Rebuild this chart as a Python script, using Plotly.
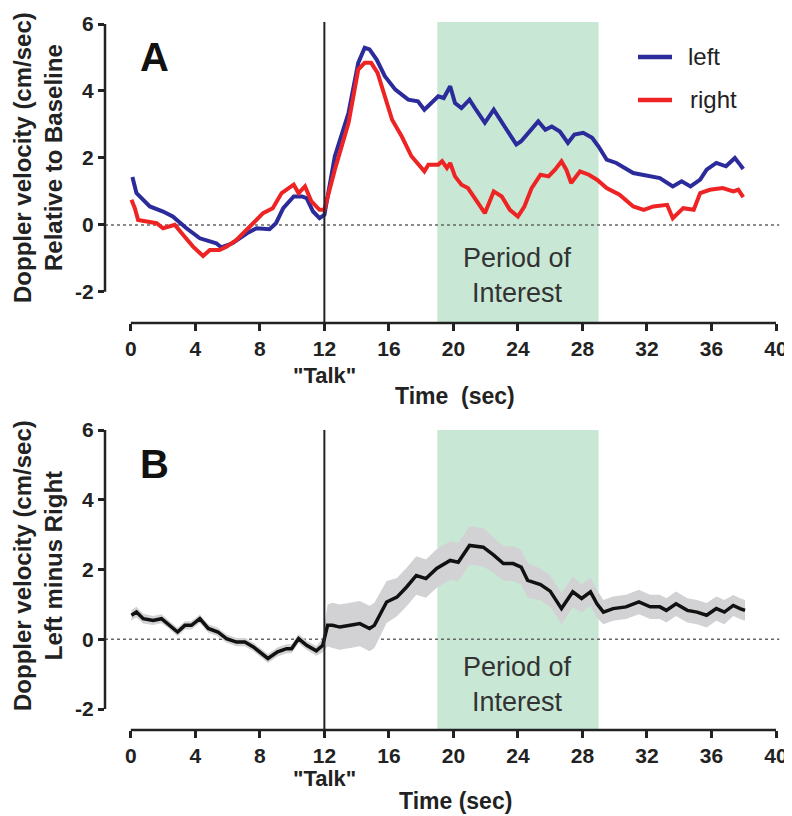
import plotly.graph_objects as go

# ---------------- data ----------------
left_t = [0.1, 0.35, 1.18, 2.0, 2.6, 3.45, 4.28, 5.3, 5.6, 6.3, 7.2, 7.8, 8.6, 9.0, 9.45,
          10.1, 10.6, 10.9, 11.3, 11.7, 12.0, 12.65, 13.5, 14.1, 14.5, 14.8, 15.24, 15.75,
          16.4, 17.2, 17.8, 18.2, 19.06, 19.4, 19.8, 20.1, 20.5, 21.0, 21.4, 21.95, 22.5,
          22.9, 23.4, 23.9, 24.2, 24.7, 25.26, 25.7, 26.1, 26.6, 27.1, 27.5, 28.05, 28.6,
          29.0, 29.5, 30.1, 31.15, 32.2, 32.8, 33.6, 34.15, 34.7, 35.3, 35.7, 36.3, 36.9,
          37.45, 37.77, 37.97]
left_v = [1.43, 0.95, 0.55, 0.4, 0.25, -0.1, -0.4, -0.55, -0.67, -0.55, -0.25, -0.1, -0.13,
          0.05, 0.5, 0.85, 0.85, 0.8, 0.4, 0.2, 0.3, 2.05, 3.35, 4.84, 5.29, 5.24, 4.94, 4.44,
          4.04, 3.74, 3.69, 3.44, 3.84, 3.79, 4.14, 3.64, 3.49, 3.74, 3.44, 3.05, 3.44,
          3.14, 2.79, 2.4, 2.5, 2.79, 3.09, 2.84, 2.94, 2.79, 2.45, 2.7, 2.75, 2.6,
          2.34, 1.95, 1.85, 1.55, 1.45, 1.4, 1.15, 1.3, 1.15, 1.35, 1.65, 1.85, 1.75,
          2.0, 1.8, 1.67]

right_t = [0.04, 0.25, 0.45, 0.97, 1.6, 2.0, 2.73, 3.25, 3.86, 4.48, 4.9, 5.5, 5.93, 6.55,
           7.07, 7.6, 8.2, 8.8, 9.35, 10.1, 10.4, 10.8, 11.2, 11.7, 12.0, 12.65, 13.5, 14.1,
           14.5, 14.9, 15.3, 15.75, 16.2, 16.8, 17.4, 18.2, 18.45, 19.06, 19.3, 19.6, 19.8,
           20.1, 20.5, 20.9, 21.4, 21.95, 22.5, 23.0, 23.5, 24.0, 24.4, 24.85, 25.4, 25.9,
           26.3, 26.7, 27.0, 27.3, 27.85, 28.4, 28.9, 29.5, 30.3, 31.15, 31.8, 32.4, 33.25,
           33.6, 34.25, 34.9, 35.3, 35.9, 36.7, 37.35, 37.66, 37.97]
right_v = [0.75, 0.5, 0.15, 0.1, 0.05, -0.1, 0.0, -0.3, -0.65, -0.93, -0.75, -0.75, -0.65,
           -0.45, -0.2, 0.05, 0.35, 0.5, 0.95, 1.2, 0.95, 1.15, 0.7, 0.45, 0.45, 1.65, 3.05,
           4.64, 4.84, 4.84, 4.54, 3.84, 3.14, 2.64, 2.05, 1.6, 1.8, 1.8, 1.9, 1.7, 1.85,
           1.45, 1.2, 1.1, 0.75, 0.35, 1.0, 0.85, 0.45, 0.25, 0.55, 1.1, 1.5, 1.45,
           1.65, 1.9, 1.65, 1.25, 1.6, 1.5, 1.35, 1.1, 0.9, 0.55, 0.45, 0.55, 0.6,
           0.2, 0.5, 0.45, 0.95, 1.05, 1.1, 1.0, 1.05, 0.83]

diff_t = [0.04, 0.35, 0.77, 1.38, 1.9, 2.3, 2.9, 3.35, 3.76, 4.28, 4.8, 5.4, 5.93, 6.55, 7.07,
          7.6, 8.1, 8.5, 9.1, 9.66, 9.97, 10.4, 10.9, 11.5, 11.9, 12.2, 12.5, 12.96, 13.6,
          14.2, 14.8, 15.1, 15.86, 16.5, 17.1, 17.7, 18.3, 18.96, 19.8, 20.3, 21.0, 21.85,
          22.5, 23.1, 23.7, 24.2, 24.6, 25.4, 26.0, 26.7, 27.4, 27.95, 28.5, 28.9, 29.3,
          29.9, 30.7, 31.5, 32.2, 32.8, 33.2, 33.8, 34.5, 35.1, 35.7, 36.3, 36.8, 37.35,
          37.77, 38.08]
diff_v = [0.69, 0.78, 0.59, 0.54, 0.59, 0.45, 0.21, 0.4, 0.4, 0.59, 0.31, 0.21, 0.02, -0.08,
          -0.08, -0.22, -0.41, -0.55, -0.36, -0.27, -0.27, 0.02, -0.17, -0.33, -0.17, 0.4,
          0.4, 0.35, 0.4, 0.45, 0.31, 0.4, 1.07, 1.21, 1.5, 1.83, 1.74, 2.03, 2.26, 2.21,
          2.69, 2.64, 2.41, 2.17, 2.17, 2.07, 1.69, 1.57, 1.38, 0.88, 1.36, 1.17, 1.36, 1.02,
          0.78, 0.88, 0.93, 1.07, 0.93, 0.93, 0.83, 1.02, 0.83, 0.78, 0.69, 0.88, 0.78, 0.97,
          0.88, 0.83]
diff_sem = [0.15, 0.15, 0.14, 0.13, 0.13, 0.12, 0.12, 0.12, 0.12, 0.12, 0.12, 0.12, 0.12,
            0.12, 0.12, 0.12, 0.12, 0.13, 0.13, 0.13, 0.13, 0.13, 0.13, 0.14, 0.2, 0.6,
            0.65, 0.65, 0.65, 0.65, 0.65, 0.65, 0.6, 0.55, 0.55, 0.55, 0.55, 0.55, 0.55,
            0.55, 0.55, 0.55, 0.5, 0.5, 0.5, 0.5, 0.5, 0.45, 0.45, 0.45, 0.45, 0.4, 0.4,
            0.4, 0.35, 0.35, 0.35, 0.35, 0.35, 0.35, 0.35, 0.35, 0.35, 0.35, 0.35, 0.35,
            0.35, 0.3, 0.3, 0.3]

x_ticks = [0, 4, 8, 12, 16, 20, 24, 28, 32, 36, 40]
y_ticks = [-2, 0, 2, 4, 6]
y_tick_labels = ["-2", "0", "2", "4", "6"]
talk_time = 12
interest_start, interest_end = 19, 29
series_names = ["left", "right"]

# ---------------- styling ----------------
W, H = 792, 816
OFF = 8  # page body margin of the browser


def px(x):
    return (x - OFF) / W


def py(y):
    return 1 - (y - OFF) / H


FONT = "Liberation Sans, Arial, sans-serif"
AX = "#222222"
BLUE = "#2b2b9c"
RED = "#ee2424"
GREEN = "#c8e8d5"
BAND = "#d2d2d4"

XR = [-1.6, 40.2]
x_dom = [px(105), px(131 + 40.2 * 16.125)]
ydomA = [py(323), py(22)]
ydomB = [py(730), py(430)]
YRA = [-2.93, 6.06]
YRB = [-2.6, 6.0]

fig = go.Figure()

fig.add_trace(go.Scatter(x=left_t, y=left_v, mode="lines", name=series_names[0],
                         line=dict(color=BLUE, width=4), xaxis="x", yaxis="y",
                         showlegend=False))
fig.add_trace(go.Scatter(x=right_t, y=right_v, mode="lines", name=series_names[1],
                         line=dict(color=RED, width=4), xaxis="x", yaxis="y",
                         showlegend=False))

upper = [v + s for v, s in zip(diff_v, diff_sem)]
lower = [v - s for v, s in zip(diff_v, diff_sem)]
fig.add_trace(go.Scatter(x=diff_t, y=upper, mode="lines", line=dict(width=0, color=BAND),
                         xaxis="x2", yaxis="y2", showlegend=False, hoverinfo="skip"))
fig.add_trace(go.Scatter(x=diff_t, y=lower, mode="lines", line=dict(width=0, color=BAND),
                         fill="tonexty", fillcolor=BAND, xaxis="x2", yaxis="y2",
                         showlegend=False, hoverinfo="skip"))
fig.add_trace(go.Scatter(x=diff_t, y=diff_v, mode="lines", line=dict(color="#111111", width=3.5),
                         xaxis="x2", yaxis="y2", showlegend=False))

tickfont = dict(family=FONT, size=21, color=AX, weight="bold")
common_x = dict(range=XR, domain=x_dom, tickvals=x_ticks, ticks="outside", ticklen=7,
                tickwidth=2.5, tickcolor=AX, showline=False, showgrid=False, zeroline=False,
                tickfont=tickfont, automargin=False, fixedrange=True)
common_y = dict(tickvals=y_ticks, ticktext=y_tick_labels, ticks="outside", ticklen=6,
                tickwidth=2.5, tickcolor=AX, showline=False, showgrid=False, zeroline=False,
                tickfont=tickfont, automargin=False, fixedrange=True)

fig.update_layout(
    width=W, height=H, margin=dict(l=0, r=0, t=0, b=0),
    paper_bgcolor="white", plot_bgcolor="rgba(0,0,0,0)",
    xaxis=dict(**common_x, anchor="y"),
    yaxis=dict(**common_y, range=YRA, domain=ydomA, anchor="x"),
    xaxis2=dict(**common_x, anchor="y2"),
    yaxis2=dict(**common_y, range=YRB, domain=ydomB, anchor="x2"),
)

shapes = []
for xa, ya in [("x", "y"), ("x2", "y2")]:
    shapes.append(dict(type="rect", xref=xa, yref=ya + " domain", x0=interest_start,
                       x1=interest_end, y0=0, y1=1, fillcolor=GREEN, line_width=0,
                       layer="below"))
    shapes.append(dict(type="line", xref=xa + " domain", yref=ya, x0=0, x1=1, y0=0, y1=0,
                       line=dict(color="#666666", width=1.5, dash="dot"), layer="below"))
    shapes.append(dict(type="line", xref=xa + " domain", yref=ya, x0=0, x1=0,
                       y0=y_ticks[0], y1=y_ticks[-1], line=dict(color=AX, width=2.5)))
    shapes.append(dict(type="line", xref=xa, yref=ya + " domain", x0=x_ticks[0],
                       x1=x_ticks[-1], y0=0, y1=0, line=dict(color=AX, width=2.5)))
    shapes.append(dict(type="line", xref=xa, yref=ya + " domain", x0=talk_time,
                       x1=talk_time, y0=0, y1=1, line=dict(color=AX, width=2)))

# legend samples (panel A)
shapes.append(dict(type="line", xref="paper", yref="paper", x0=px(638), x1=px(672),
                   y0=py(57), y1=py(57), line=dict(color=BLUE, width=4.5)))
shapes.append(dict(type="line", xref="paper", yref="paper", x0=px(638), x1=px(672),
                   y0=py(100), y1=py(100), line=dict(color=RED, width=4.5)))
fig.update_layout(shapes=shapes)

ann = []
title_font = dict(family=FONT, size=24, color=AX, weight="bold")
ann.append(dict(text="Doppler velocity (cm/sec)<br>Relative to Baseline", xref="paper",
                yref="paper", x=px(38), y=py(158), textangle=-90, showarrow=False,
                xanchor="center", yanchor="middle", font=title_font))
ann.append(dict(text="Doppler velocity (cm/sec)<br>Left minus Right", xref="paper",
                yref="paper", x=px(38), y=py(566), textangle=-90, showarrow=False,
                xanchor="center", yanchor="middle", font=title_font))
xt_font = dict(family=FONT, size=23, color=AX, weight="bold")
ann.append(dict(text="Time  (sec)", xref="paper", yref="paper", x=px(455), y=py(396),
                showarrow=False, xanchor="center", yanchor="middle", font=xt_font))
ann.append(dict(text="Time (sec)", xref="paper", yref="paper", x=px(455), y=py(801),
                showarrow=False, xanchor="center", yanchor="middle", font=xt_font))
talk_font = dict(family=FONT, size=22, color=AX, weight="bold")
for xa, yy in [("x", 376), ("x2", 778)]:
    ann.append(dict(text='"Talk"', xref=xa, yref="paper", x=talk_time, y=py(yy),
                    showarrow=False, xanchor="center", yanchor="middle", font=talk_font))
for xa, yy in [("x", 276), ("x2", 684)]:
    ann.append(dict(text="Period of<br>Interest", xref=xa, yref="paper",
                    x=(interest_start + interest_end) / 2, y=py(yy), showarrow=False,
                    xanchor="center", yanchor="middle",
                    font=dict(family=FONT, size=27, color="#333333")))
for lab, yy in [("A", 57), ("B", 464)]:
    ann.append(dict(text=lab, xref="paper", yref="paper", x=px(154), y=py(yy),
                    showarrow=False, xanchor="center", yanchor="middle",
                    font=dict(family=FONT, size=40, color="#111111", weight="bold")))
ann.append(dict(text=series_names[0], xref="paper", yref="paper", x=px(686), y=py(56),
                showarrow=False, xanchor="left", yanchor="middle",
                font=dict(family=FONT, size=24, color=AX)))
ann.append(dict(text=series_names[1], xref="paper", yref="paper", x=px(688), y=py(99),
                showarrow=False, xanchor="left", yanchor="middle",
                font=dict(family=FONT, size=24, color=AX)))
fig.update_layout(annotations=ann)

fig.write_html("out.html")
